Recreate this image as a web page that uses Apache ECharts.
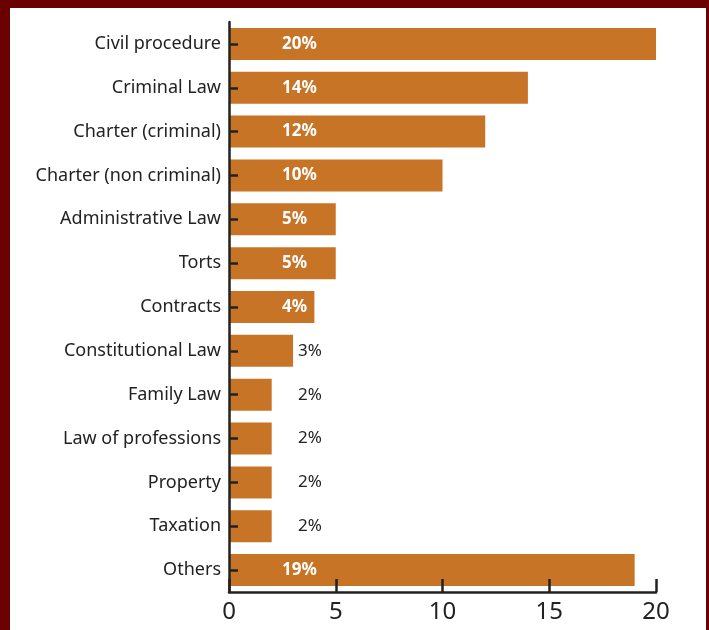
<!DOCTYPE html>
<html>
<head>
<meta charset="utf-8">
<script src="https://cdn.jsdelivr.net/npm/echarts@6/dist/echarts.min.js"></script>
<style>
  html, body { margin: 0; padding: 0; width: 709px; height: 630px; background: #6b0000; overflow: hidden; }
  #chart { position: absolute; left: 10px; top: 8px; width: 696px; height: 622px; background: #ffffff; }
</style>
</head>
<body>
<div id="chart"></div>
<script>
// Share of cases by area of law (%)
const categories = [
  'Civil procedure', 'Criminal Law', 'Charter (criminal)', 'Charter (non criminal)',
  'Administrative Law', 'Torts', 'Contracts', 'Constitutional Law', 'Family Law',
  'Law of professions', 'Property', 'Taxation', 'Others'
];
const shares = [20, 14, 12, 10, 5, 5, 4, 3, 2, 2, 2, 2, 19];
const xTicks = [0, 5, 10, 15, 20];

const BAR = '#c77426';
const INK = '#222222';
const FONT = 'Noto Sans';
const insideMin = 4; // values from this size up carry their label inside the bar

const chart = echarts.init(document.getElementById('chart'), null, { renderer: 'canvas' });

const seriesData = shares.map(v => {
  const inside = v >= insideMin;
  return {
    value: v,
    label: inside
      ? { position: 'insideLeft', distance: 53, color: '#ffffff', fontWeight: 'bold', fontSize: 17 }
      : { position: 'insideLeft', distance: 69, color: INK, fontWeight: 'normal', fontSize: 17 }
  };
});

chart.setOption({
  animation: false,
  grid: { left: 219, right: 50, top: 14, bottom: 38, containLabel: false },
  xAxis: {
    type: 'value',
    z: 5,
    min: xTicks[0],
    max: xTicks[xTicks.length - 1],
    interval: 5,
    splitLine: { show: false },
    axisLine: { show: true, lineStyle: { color: INK, width: 2.5 } },
    axisTick: { show: true, inside: true, length: 13, lineStyle: { color: INK, width: 2.5 } },
    axisLabel: { color: INK, fontSize: 24, margin: 8, fontFamily: FONT }
  },
  yAxis: {
    type: 'category',
    z: 5,
    inverse: true,
    data: categories,
    axisLine: { show: true, lineStyle: { color: INK, width: 2.5 } },
    axisTick: { show: true, inside: true, length: 9, alignWithLabel: true, lineStyle: { color: INK, width: 2.5 } },
    axisLabel: { color: INK, fontSize: 18, margin: 8, fontFamily: FONT }
  },
  series: [{
    type: 'bar',
    data: seriesData,
    barWidth: 32,
    itemStyle: { color: BAR },
    label: {
      show: true,
      fontFamily: FONT,
      formatter: p => p.value + '%'
    },
    z: 1
  }]
});
</script>
</body>
</html>
